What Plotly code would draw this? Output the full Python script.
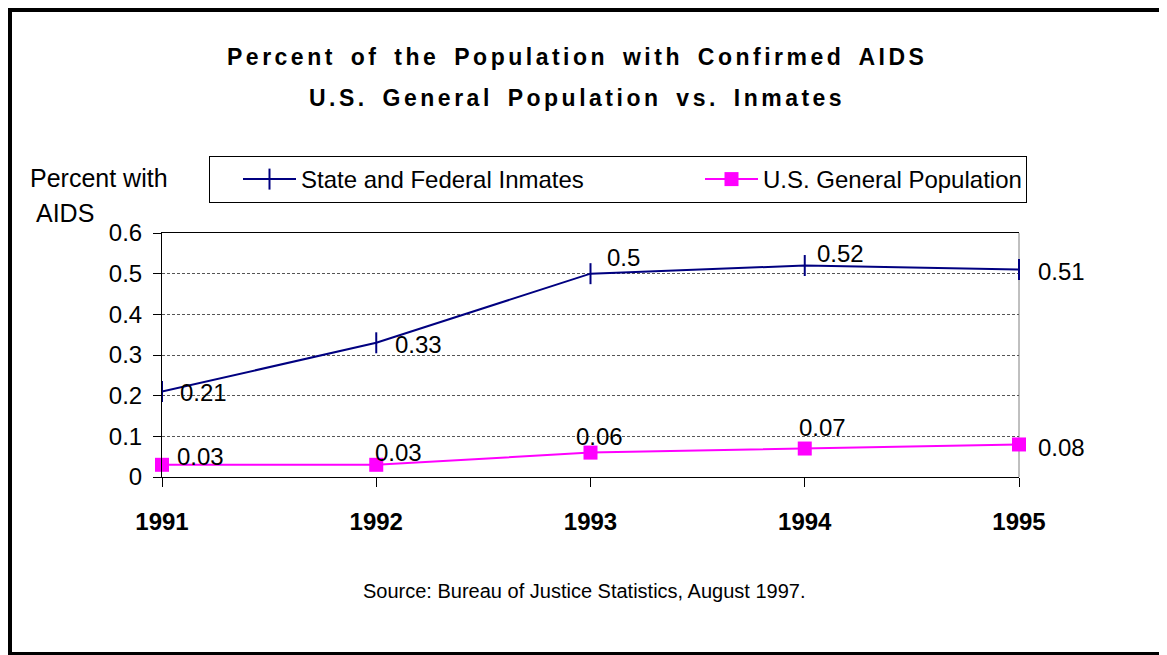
import plotly.graph_objects as go

# ---------------- data ----------------
years = [1991, 1992, 1993, 1994, 1995]
year_labels = ["1991", "1992", "1993", "1994", "1995"]
inmates = [0.21, 0.33, 0.5, 0.52, 0.51]
general = [0.03, 0.03, 0.06, 0.07, 0.08]
inmates_name = "State and Federal Inmates"
general_name = "U.S. General Population"
title_line1 = "Percent of the Population with Confirmed AIDS"
title_line2 = "U.S. General Population vs. Inmates"
ytitle_line1 = "Percent with"
ytitle_line2 = "AIDS"
source_text = "Source: Bureau of Justice Statistics, August 1997."

# ---------------- layout geometry ----------------
OFF = 8                      # page body margin of the browser
W, H = 1167 - OFF, 655 - OFF
L, R, T, B = 162 - OFF, 1019 - OFF, 233 - OFF, 477 - OFF


def px2x(sx):
    """screen x -> paper x"""
    return (sx - OFF - L) / (R - L)


def px2y(sy):
    """screen y -> paper y"""
    return (B - (sy - OFF)) / (B - T)


FONT = "Arial, Liberation Sans, sans-serif"
NAVY = "#000080"
MAGENTA = "#FF00FF"

fig = go.Figure()
fig.add_trace(go.Scatter(
    x=years, y=inmates, name=inmates_name, mode="lines+markers",
    line=dict(color=NAVY, width=2),
    marker=dict(symbol="line-ns-open", size=15, line=dict(color=NAVY, width=2)),
    cliponaxis=False, legendwidth=366,
))
fig.add_trace(go.Scatter(
    x=years, y=general, name=general_name, mode="lines+markers",
    line=dict(color=MAGENTA, width=2),
    marker=dict(symbol="square", size=14, color=MAGENTA),
    cliponaxis=False, legendwidth=258,
))

# data label placement styles (anchor, xshift, yshift)
inm_style = [("left", 16, -1), ("left", 17, -2), ("left", 14, 16), ("left", 10, 12), ("left", 17, -2)]
gen_style = [("left", 13, 8), ("left", -3, 12), ("center", 9, 16), ("center", 18, 21), ("left", 17, -3)]

annotations = []
for xs, ys, styles in ((years, inmates, inm_style), (years, general, gen_style)):
    for xv, yv, (anc, dx, dy) in zip(xs, ys, styles):
        annotations.append(dict(
            x=xv, y=yv, xref="x", yref="y", text=f"{yv:g}", showarrow=False,
            xanchor=anc, yanchor="middle", xshift=dx, yshift=dy,
            font=dict(family=FONT, size=24, color="black"),
        ))

title_style = "letter-spacing:3.5px;word-spacing:5px"
annotations.append(dict(
    x=px2x(577), y=px2y(57), xref="paper", yref="paper", showarrow=False,
    text=f"<b><span style='{title_style}'>{title_line1}</span></b>",
    xanchor="center", yanchor="middle",
    font=dict(family=FONT, size=23, color="black"),
))
annotations.append(dict(
    x=px2x(577), y=px2y(98), xref="paper", yref="paper", showarrow=False,
    text=f"<b><span style='{title_style}'>{title_line2}</span></b>",
    xanchor="center", yanchor="middle",
    font=dict(family=FONT, size=23, color="black"),
))
annotations.append(dict(
    x=px2x(28), y=px2y(178), xref="paper", yref="paper", showarrow=False,
    text=ytitle_line1, xanchor="left", yanchor="middle",
    font=dict(family=FONT, size=25, color="black"),
))
annotations.append(dict(
    x=px2x(34), y=px2y(213), xref="paper", yref="paper", showarrow=False,
    text=ytitle_line2, xanchor="left", yanchor="middle",
    font=dict(family=FONT, size=25, color="black"),
))
annotations.append(dict(
    x=px2x(584), y=px2y(591), xref="paper", yref="paper", showarrow=False,
    text=source_text, xanchor="center", yanchor="middle",
    font=dict(family=FONT, size=20, color="black"),
))

shapes = [
    # outer page frame (thick black)
    dict(type="rect", xref="paper", yref="paper", x0=px2x(0), x1=px2x(12),
         y0=px2y(670), y1=px2y(0), fillcolor="black", line=dict(width=0), layer="above"),
    dict(type="rect", xref="paper", yref="paper", x0=px2x(0), x1=px2x(1180),
         y0=px2y(12), y1=px2y(0), fillcolor="black", line=dict(width=0), layer="above"),
    dict(type="rect", xref="paper", yref="paper", x0=px2x(0), x1=px2x(1180),
         y0=px2y(670), y1=px2y(652), fillcolor="black", line=dict(width=0), layer="above"),
    # right plot border (gray)
    dict(type="line", xref="paper", yref="paper", x0=1, x1=1, y0=0, y1=1,
         line=dict(color="#808080", width=1), layer="below"),
]

fig.update_layout(
    width=W, height=H,
    margin=dict(l=L, r=W - R, t=T, b=H - B, pad=0),
    paper_bgcolor="white", plot_bgcolor="white",
    font=dict(family=FONT, color="black"),
    showlegend=True,
    legend=dict(
        orientation="h", x=px2x(209), xanchor="left", y=px2y(156), yanchor="top",
        bordercolor="#000000", borderwidth=1, bgcolor="white",
        font=dict(family=FONT, size=24, color="black"),
        itemwidth=53, indentation=28, traceorder="normal",
    ),
    xaxis=dict(
        range=[years[0], years[-1]], tickvals=years, ticktext=year_labels,
        showline=True, linecolor="black", linewidth=1, mirror=True,
        ticks="outside", ticklen=9, tickcolor="black", tickwidth=1,
        showgrid=False, zeroline=False,
        tickfont=dict(family=FONT, size=24, color="black", weight="bold"),
        ticklabelstandoff=14,
    ),
    yaxis=dict(
        range=[0, 0.6], dtick=0.1, tick0=0,
        showline=True, linecolor="black", linewidth=1,
        ticks="outside", ticklen=8, tickcolor="black", tickwidth=1,
        showgrid=True, gridcolor="#555555", gridwidth=1, griddash="3px,2px",
        zeroline=False,
        tickfont=dict(family=FONT, size=24, color="black"),
        ticklabelstandoff=6,
    ),
    annotations=annotations,
    shapes=shapes,
)

fig.write_html("out.html")
